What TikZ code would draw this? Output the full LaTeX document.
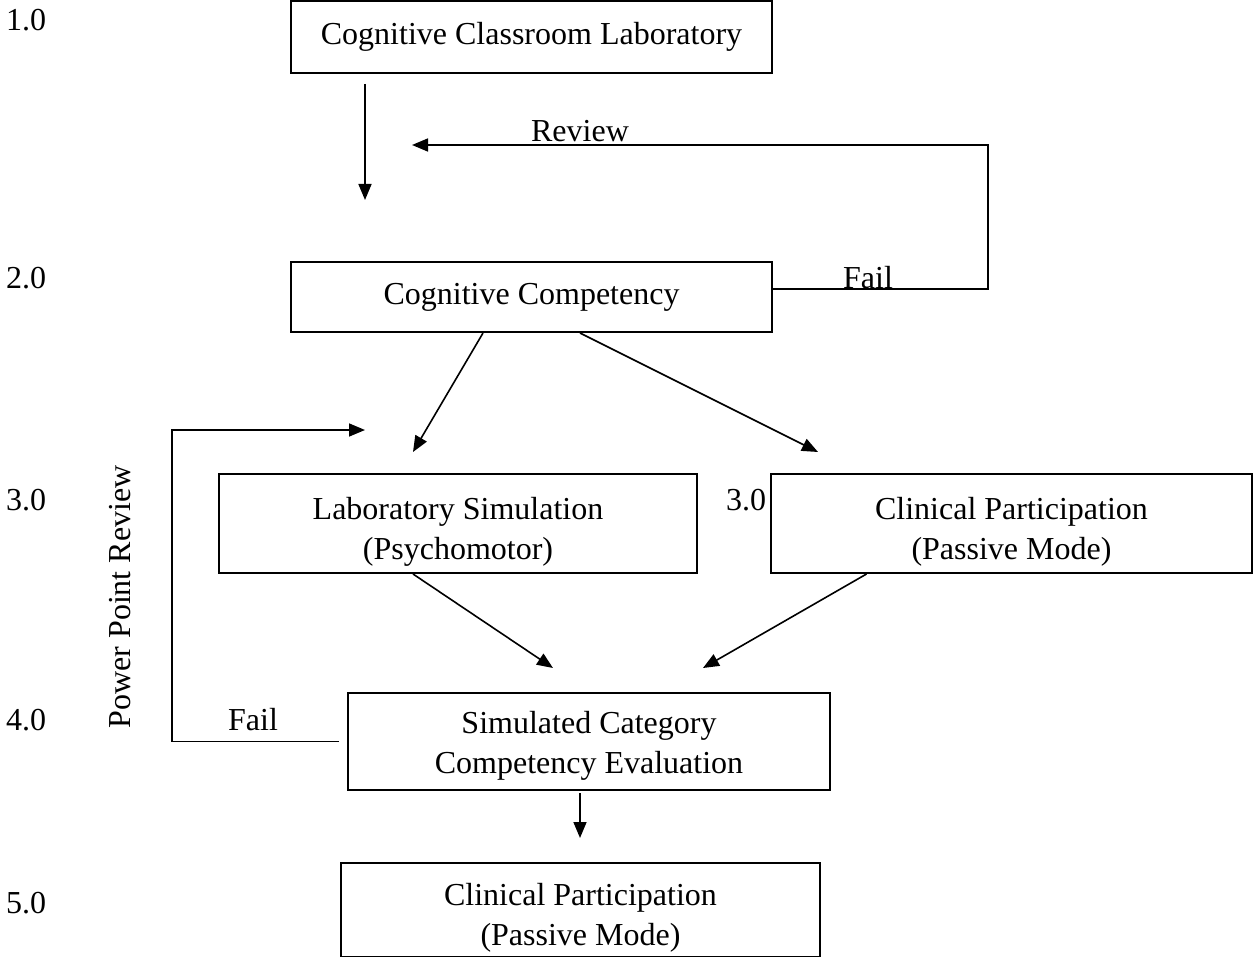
\documentclass[tikz,border=0pt]{standalone}
\usepackage{fontspec}
\setmainfont{Liberation Serif}
\usetikzlibrary{arrows.meta}
\begin{document}
\begin{tikzpicture}[x=0.5pt,y=-0.5pt,
  box/.style={draw,line width=1pt,inner sep=0pt},
  lbl/.style={inner sep=0pt,align=center,font=\fontsize{16}{20}\selectfont},
  arr/.style={line width=0.8pt,-{Triangle[length=8pt,width=6.5pt]}}]
\useasboundingbox (0,0) rectangle (1253,957);
% boxes
\node[box,minimum width=240.5pt,minimum height=36pt] (b1) at (531.5,37) {};
\node[box,minimum width=240.5pt,minimum height=35pt] (b2) at (531.5,297) {};
\node[box,minimum width=239pt,minimum height=49.5pt] (b3l) at (458,523.5) {};
\node[box,minimum width=240.5pt,minimum height=49.5pt] (b3r) at (1011.5,523.5) {};
\node[box,minimum width=241pt,minimum height=48.5pt] (b4) at (589,741.5) {};
\node[box,minimum width=239.5pt,minimum height=47pt] (b5) at (580.5,910) {};
% box texts
\node[lbl] (b1t) at ([yshift=0pt]b1.center) {Cognitive Classroom Laboratory};
\node[lbl] (b2t) at ([yshift=0pt]b2.center) {Cognitive Competency};
\node[lbl] (b3lt) at ([yshift=-4pt]b3l.center) {Laboratory Simulation\\(Psychomotor)};
\node[lbl] (b3rt) at ([yshift=-4pt]b3r.center) {Clinical Participation\\(Passive Mode)};
\node[lbl] (b4t) at ([yshift=-2pt]b4.center) {Simulated Category\\Competency Evaluation};
\node[lbl] (b5t) at ([yshift=-4pt]b5.center) {Clinical Participation\\(Passive Mode)};
% labels
\node[lbl] (l1) at (26,20) {1.0};
\node[lbl] (l2) at (26,278) {2.0};
\node[lbl] (l3) at (26,500) {3.0};
\node[lbl] (l3b) at (746,500) {3.0};
\node[lbl] (l4) at (26,720) {4.0};
\node[lbl] (l5) at (26,903) {5.0};
\node[lbl] (rev) at (580,131) {Review};
\node[lbl] (f1) at (868,278) {Fail};
\node[lbl] (f2) at (253,720) {Fail};
\node[lbl,rotate=90] (ppr) at (120,597) {Power Point Review};
% coordinates
\coordinate (t2) at (365,200);
\coordinate (rc) at (988,145);
\coordinate (rv) at (412,145);
\coordinate (t3l) at (413,452);
\coordinate (t3r) at (818,452);
\coordinate (t4l) at (553,668);
\coordinate (t4r) at (703,668);
\coordinate (t5) at (580,838);
\coordinate (lc) at (172,430);
\coordinate (lf) at (365,430);
% connectors
\draw[arr] ([xshift=-83.25pt,yshift=-5pt]b1.south) -- (t2);
\draw[arr] ([yshift=4pt]b2.east) -| (rc) -- (rv);
\draw[arr] ([xshift=-24.25pt]b2.south) -- (t3l);
\draw[arr] ([xshift=24.25pt]b2.south) -- (t3r);
\draw[arr] ([xshift=-22.5pt]b3l.south) -- (t4l);
\draw[arr] ([xshift=-72.5pt]b3r.south) -- (t4r);
\draw[arr] ([xshift=-4.5pt,yshift=-1pt]b4.south) -- (t5);
\draw[arr] ([xshift=-4pt]b4.west) -| (lc) -- (lf);
\end{tikzpicture}
\end{document}
